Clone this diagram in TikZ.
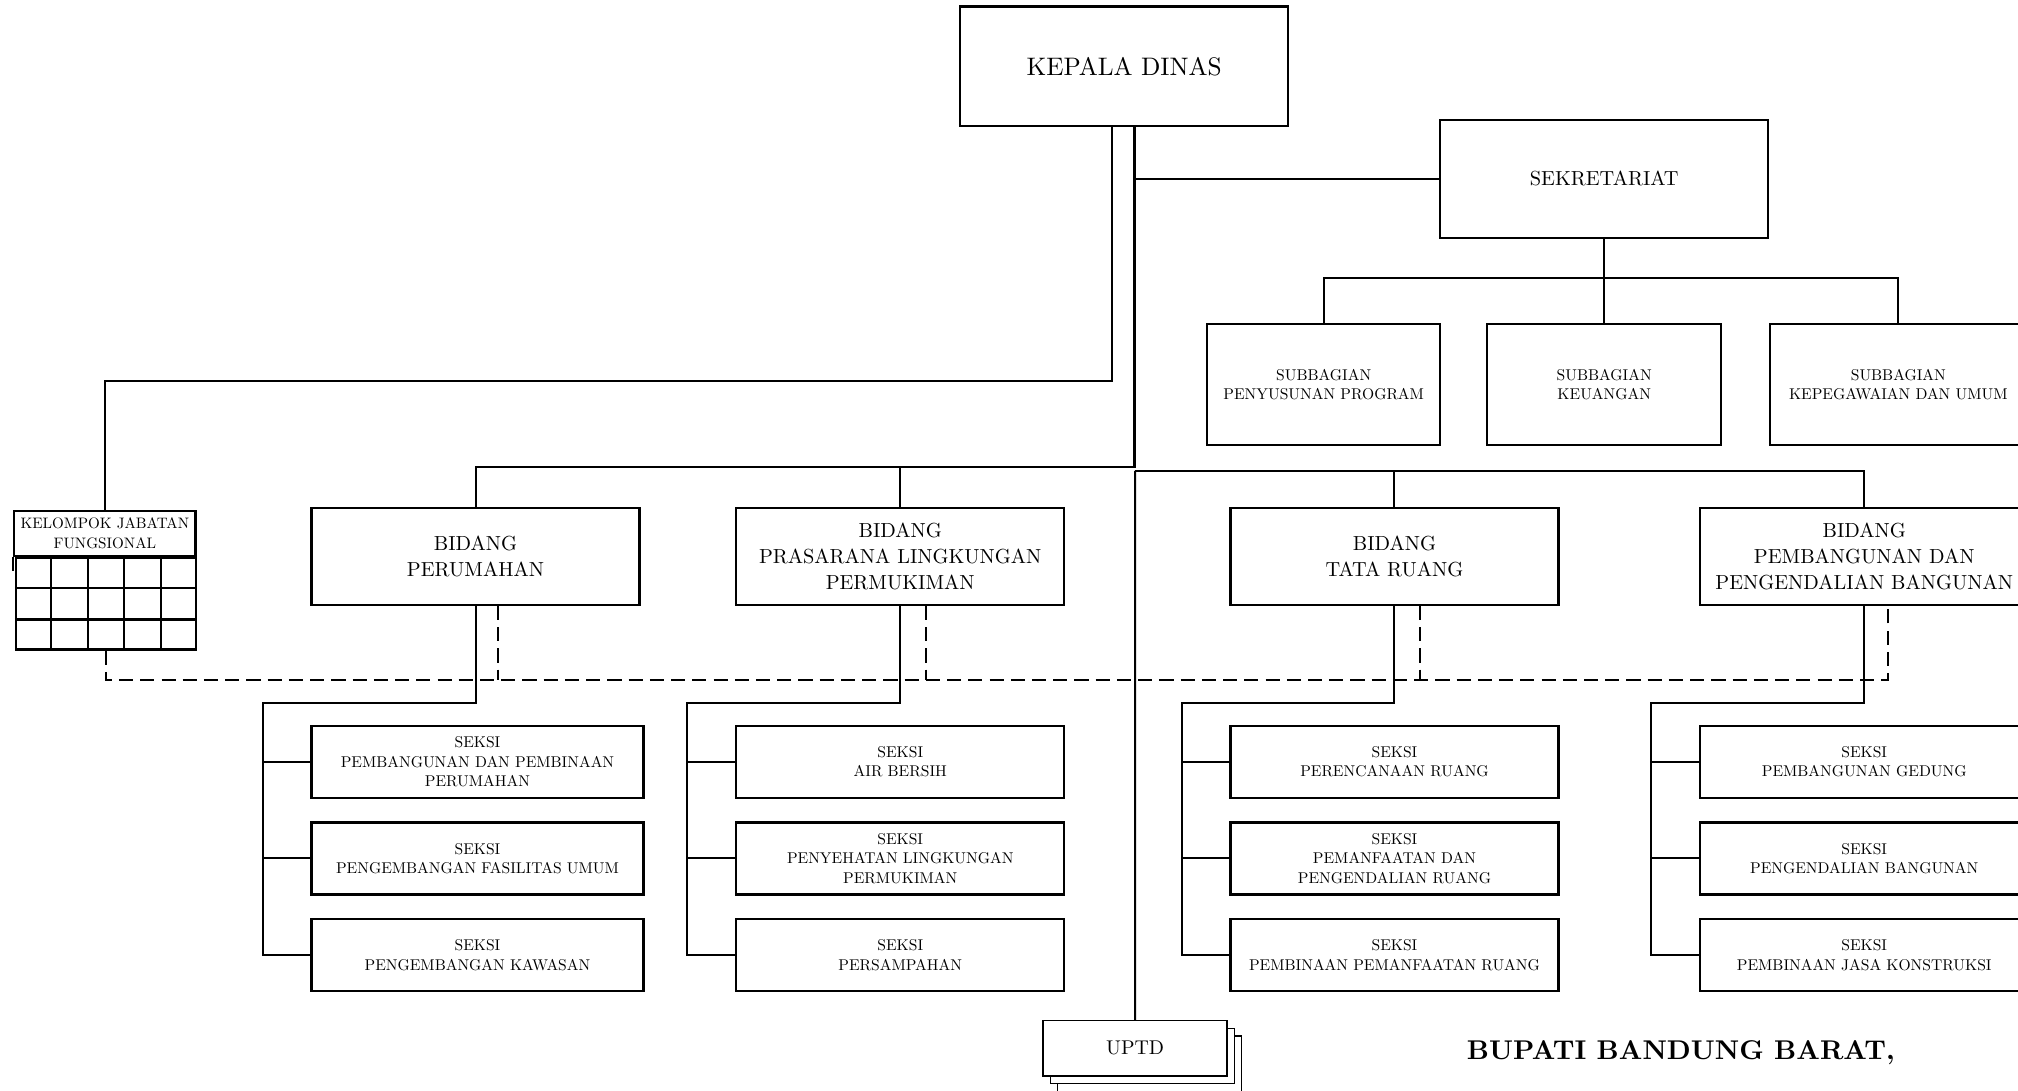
\documentclass[tikz,border=0pt]{standalone}
\usepackage{fontspec}
% one design size of Latin Modern for every text size
\setmainfont{lmroman10-regular}[Extension=.otf, BoldFont=lmroman10-bold]
\usetikzlibrary{calc}
\begin{document}
\begin{tikzpicture}[x=0.02cm,y=-0.02cm,
  unit/.style={draw, line width=1pt, fill=white, inner sep=0pt, align=center},
  headfont/.style={font=\fontsize{11.2}{14}\selectfont},
  midfont/.style={font=\fontsize{9}{11.4}\selectfont},
  smallfont/.style={font=\fontsize{6.9}{8.6}\selectfont},
  bidang/.style={unit, midfont, minimum width=5.1cm, minimum height=1.5cm},
  seksi/.style={unit, smallfont, minimum width=5.1cm, minimum height=1.12cm},
  subbag/.style={unit, smallfont, minimum height=1.88cm},
  uptdbox/.style={unit, line width=0.6pt, minimum width=2.86cm, minimum height=0.86cm},
  link/.style={line width=0.9pt},
  coord/.style={line width=0.9pt, dash pattern=on 0.22cm off 0.11cm}]
\useasboundingbox (0,0) rectangle (1568,847);
\clip (0,0) rectangle (1568,847);

% top level
\node[unit, headfont, minimum width=5.1cm, minimum height=1.86cm] (kepala) at (873.5,51.5) {KEPALA DINAS};
\node[unit, midfont, minimum width=5.1cm, minimum height=1.84cm] (sekr) at (1246.5,139) {SEKRETARIAT};

% secretariat sub-units
\node[subbag, minimum width=3.62cm] (subA) at (1028.5,299) {SUBBAGIAN\\PENYUSUNAN PROGRAM};
\node[subbag, minimum width=3.64cm] (subB) at (1246.5,299) {SUBBAGIAN\\KEUANGAN};
\node[subbag, minimum width=4.0cm] (subC) at (1475,299) {SUBBAGIAN\\KEPEGAWAIAN DAN UMUM};

% functional group with its grid
\node[unit, font=\fontsize{6.7}{8.6}\selectfont, minimum width=2.82cm, minimum height=0.7cm] (kjf) at (81.5,414.5) {KELOMPOK JABATAN\\FUNGSIONAL};
\node[draw, line width=1pt, inner sep=0pt, minimum width=2.8cm, minimum height=1.42cm, anchor=north] (kjfgrid) at ($(kjf.south)+(1,0)$) {};
\foreach \i in {1,...,4}
  \draw[link] ($(kjfgrid.north west)!\i/5!(kjfgrid.north east)$) -- ($(kjfgrid.south west)!\i/5!(kjfgrid.south east)$);
\foreach \j in {1,2}
  \draw[link] ($(kjfgrid.north west)!\j/3!(kjfgrid.south west)$) -- ($(kjfgrid.north east)!\j/3!(kjfgrid.south east)$);
\draw[link] (kjf.south west) -- ++(0,11);

% fields
\node[bidang] (bPer) at (369.5,432.5) {BIDANG\\PERUMAHAN};
\node[bidang] (bPsl) at (699.5,432.5) {BIDANG\\PRASARANA LINGKUNGAN\\PERMUKIMAN};
\node[bidang] (bTr)  at (1083.5,432.5) {BIDANG\\TATA RUANG};
\node[bidang] (bPpb) at (1448.5,432.5) {BIDANG\\PEMBANGUNAN DAN\\PENGENDALIAN BANGUNAN};

% sections
\node[seksi, minimum width=5.16cm] (sPer1) at (371,592) {SEKSI\\PEMBANGUNAN DAN PEMBINAAN\\PERUMAHAN};
\node[seksi, minimum width=5.16cm] (sPer2) at (371,667) {SEKSI\\PENGEMBANGAN FASILITAS UMUM};
\node[seksi, minimum width=5.16cm] (sPer3) at (371,742) {SEKSI\\PENGEMBANGAN KAWASAN};

\node[seksi] (sPsl1) at (699.5,592) {SEKSI\\AIR BERSIH};
\node[seksi] (sPsl2) at (699.5,667) {SEKSI\\PENYEHATAN LINGKUNGAN\\PERMUKIMAN};
\node[seksi] (sPsl3) at (699.5,742) {SEKSI\\PERSAMPAHAN};

\node[seksi] (sTr1) at (1083.5,592) {SEKSI\\PERENCANAAN RUANG};
\node[seksi] (sTr2) at (1083.5,667) {SEKSI\\PEMANFAATAN DAN\\PENGENDALIAN RUANG};
\node[seksi] (sTr3) at (1083.5,742) {SEKSI\\PEMBINAAN PEMANFAATAN RUANG};

\node[seksi] (sPpb1) at (1448.5,592) {SEKSI\\PEMBANGUNAN GEDUNG};
\node[seksi] (sPpb2) at (1448.5,667) {SEKSI\\PENGENDALIAN BANGUNAN};
\node[seksi] (sPpb3) at (1448.5,742) {SEKSI\\PEMBINAAN JASA KONSTRUKSI};

% technical unit (stacked)
\node[uptdbox] (uptdC) at (893,826.5) {};
\node[uptdbox] (uptdB) at (887.5,820.5) {};
\node[uptdbox, font=\fontsize{8.8}{10}\selectfont] (uptd) at (882,814.5) {UPTD};

\node[font=\bfseries\fontsize{12}{14}\selectfont] (bupati) at (1306,818) {BUPATI BANDUNG BARAT,};

% command lines
\draw[link] ($(kepala.south)+(-9.5,0)$) |- ($(kjf.north)+(0,-100)$) -- (kjf.north);
\draw[link] ($(kepala.south)+(8,0)$) -- ++(0,264) coordinate (busL) -| (bPer.north);
\draw[link] (busL -| bPsl.north) -- (bPsl.north);
\draw[link] (sekr.west) -- (sekr.west -| busL);
\draw[link] ($(busL)+(0.5,3)$) coordinate (busR) -| (bPpb.north);
\draw[link] (busR -| bTr.north) -- (bTr.north);
\draw[link] (busR) -- (uptd.north);

\draw[link] (sekr.south) -- ++(0,30) coordinate (busS);
\draw[link] (subA.north) |- (busS) -| (subC.north);
\draw[link] (busS) -- (subB.north);

% field to section lines
\foreach \b/\s in {bPer/sPer, bPsl/sPsl, bTr/sTr, bPpb/sPpb} {
  \draw[link] (\b.south) -- ++(0,75) -| ($(\s3.west)+(-37,0)$) -- (\s3.west);
  \draw[link] ($(\s1.west)+(-37,0)$) -- (\s1.west);
  \draw[link] ($(\s2.west)+(-37,0)$) -- (\s2.west);
}

% coordination lines
\coordinate (dPer) at ($(bPer.south)+(17.5,0)$);
\coordinate (dPsl) at ($(bPsl.south)+(20,0)$);
\coordinate (dTr)  at ($(bTr.south)+(19.5,0)$);
\coordinate (dPpb) at ($(bPpb.south)+(18.5,0)$);
\draw[coord] (kjfgrid.south) -- ++(0,23) coordinate (dBus) -- (dBus -| dPpb) -- (dPpb);
\foreach \c in {dPer,dPsl,dTr}
  \draw[coord] (\c) -- (\c |- dBus);
\end{tikzpicture}
\end{document}
